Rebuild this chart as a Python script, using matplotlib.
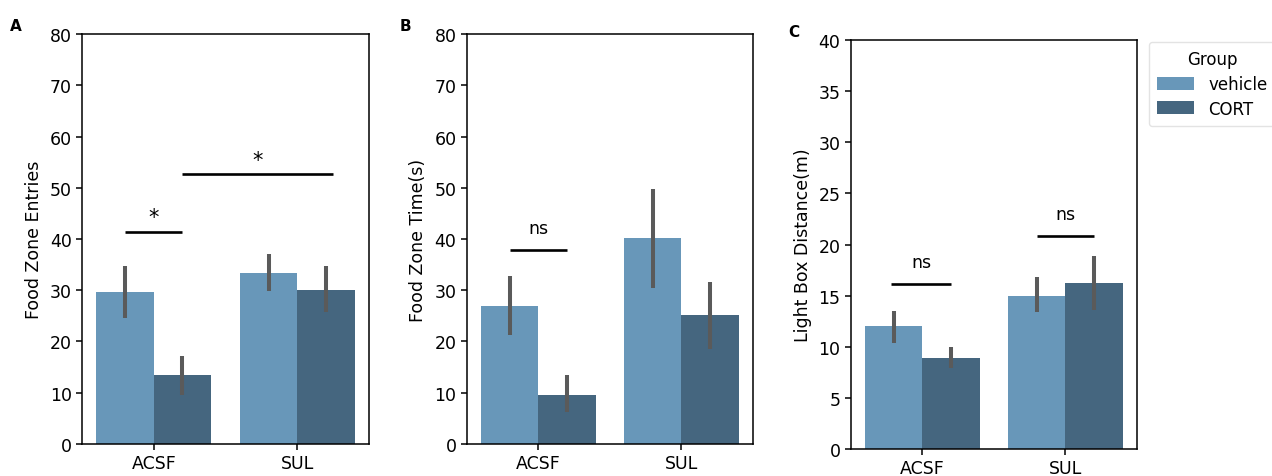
import matplotlib
matplotlib.use("Agg")
import matplotlib.pyplot as plt
import numpy as np

# categories and groups
conditions = ["ACSF", "SUL"]
groups = ["vehicle", "CORT"]

# panel A: Food Zone Entries (mean, ci low, ci high) per group, per condition
entries_vehicle = [29.6, 33.4]
entries_vehicle_lo = [24.6, 29.9]
entries_vehicle_hi = [34.8, 37.0]
entries_cort = [13.4, 30.1]
entries_cort_lo = [9.6, 25.7]
entries_cort_hi = [17.1, 34.8]

# panel B: Food Zone Time(s)
time_vehicle = [27.0, 40.2]
time_vehicle_lo = [21.3, 30.4]
time_vehicle_hi = [32.7, 49.8]
time_cort = [9.6, 25.2]
time_cort_lo = [6.2, 18.6]
time_cort_hi = [13.5, 31.6]

# panel C: Light Box Distance(m)
dist_vehicle = [12.0, 15.0]
dist_vehicle_lo = [10.4, 13.4]
dist_vehicle_hi = [13.5, 16.8]
dist_cort = [8.9, 16.25]
dist_cort_lo = [7.9, 13.6]
dist_cort_hi = [10.0, 18.9]

COL_VEH = "#6897b9"
COL_CORT = "#45667f"
COL_ERR = "#5a5a5a"

plt.rcParams.update({
    "font.family": "DejaVu Sans",
    "axes.linewidth": 1.1,
    "xtick.major.width": 1.1,
    "ytick.major.width": 1.1,
    "xtick.major.size": 4,
    "ytick.major.size": 4,
})

fig = plt.figure(figsize=(12.72, 4.77), dpi=100)

panels = [
    dict(pos=[0.0645, 0.0671, 0.2256, 0.8595], letter="A", lx=-0.25,
         ylabel="Food Zone Entries", ylim=80, step=10,
         veh=(entries_vehicle, entries_vehicle_lo, entries_vehicle_hi),
         cort=(entries_cort, entries_cort_lo, entries_cort_hi),
         marks=[(-0.2, 0.2, 41.3, "*"), (0.2, 1.25, 52.6, "*")]),
    dict(pos=[0.3671, 0.0671, 0.2248, 0.8595], letter="B", lx=-0.235,
         ylabel="Food Zone Time(s)", ylim=80, step=10,
         veh=(time_vehicle, time_vehicle_lo, time_vehicle_hi),
         cort=(time_cort, time_cort_lo, time_cort_hi),
         marks=[(-0.2, 0.2, 37.9, "ns")]),
    dict(pos=[0.669, 0.0566, 0.2248, 0.8574], letter="C", lx=-0.22,
         ylabel="Light Box Distance(m)", ylim=40, step=5,
         veh=(dist_vehicle, dist_vehicle_lo, dist_vehicle_hi),
         cort=(dist_cort, dist_cort_lo, dist_cort_hi),
         marks=[(-0.22, 0.2, 16.1, "ns"), (0.8, 1.2, 20.85, "ns")]),
]

x = np.arange(len(conditions))
w = 0.4
handles = None
for p in panels:
    ax = fig.add_axes(p["pos"])
    bars = []
    for off, (m, lo, hi), col in [(-w / 2, p["veh"], COL_VEH), (w / 2, p["cort"], COL_CORT)]:
        b = ax.bar(x + off, m, width=w, color=col, edgecolor="none")
        bars.append(b)
        ax.vlines(x + off, lo, hi, color=COL_ERR, linewidth=2.9, zorder=3)
    handles = bars
    for x0, x1, y, txt in p["marks"]:
        ax.plot([x0, x1], [y, y], color="black", linewidth=1.9, solid_capstyle="butt")
        xm = (x0 + x1) / 2
        if txt == "*":
            ax.text(xm, y + p["ylim"] * 0.012, txt, ha="center", va="bottom", fontsize=15)
        else:
            ax.text(xm, y + p["ylim"] * 0.032, txt, ha="center", va="bottom", fontsize=12.5)
    ax.set_xlim(-0.5, 1.5)
    ax.set_ylim(0, p["ylim"])
    ax.set_yticks(np.arange(0, p["ylim"] + 1, p["step"]))
    ax.set_xticks(x)
    ax.set_xticklabels(conditions)
    ax.tick_params(labelsize=12.5)
    ax.set_ylabel(p["ylabel"], fontsize=12.5, labelpad=5)
    ax.text(p["lx"], 1.002, p["letter"], transform=ax.transAxes, fontsize=11,
            fontweight="bold", ha="left", va="bottom")

leg = fig.legend(handles, groups, title="Group", loc="upper left",
                 bbox_to_anchor=(0.9033, 0.91), fontsize=12, title_fontsize=12,
                 frameon=True, handlelength=2.2, handleheight=0.8, borderpad=0.5,
                 borderaxespad=0.0, labelspacing=0.4, handletextpad=0.85)
leg.get_frame().set_edgecolor("#dddddd")

fig.savefig("out.png", dpi=100)
